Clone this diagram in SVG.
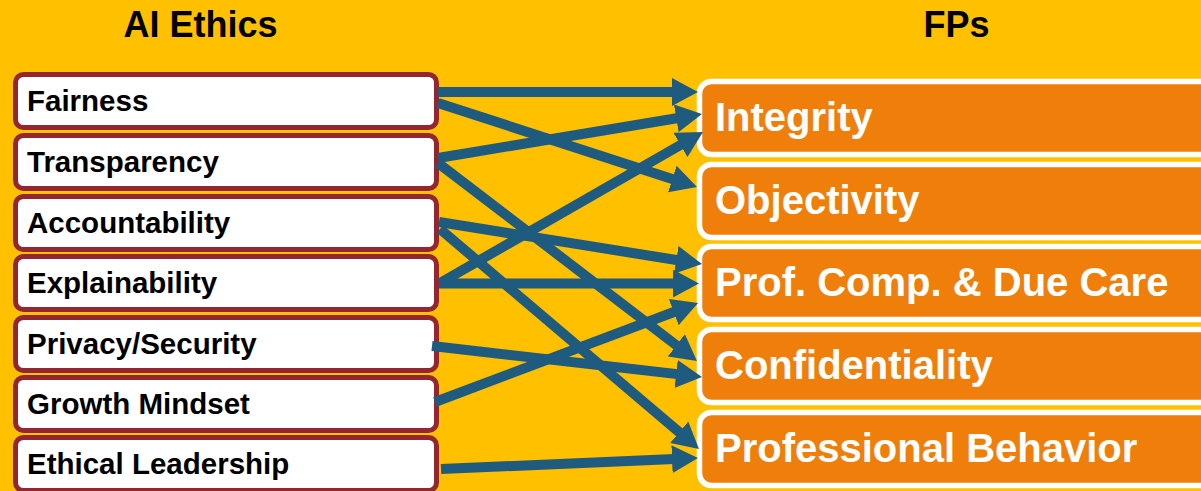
<svg xmlns="http://www.w3.org/2000/svg" width="1201" height="491" viewBox="0 0 1201 491">
<style>
.bg{fill:#FFC000}
.lbox{fill:#FFFFFF;stroke:#93262F;stroke-width:5}
.rbox{fill:#EF7F0A;stroke:#FFFFFF;stroke-width:5.5}
.ltxt{font-family:"Liberation Sans",Arial,sans-serif;font-weight:bold;font-size:29.5px;fill:#000000}
.rtxt{font-family:"Liberation Sans",Arial,sans-serif;font-weight:bold;font-size:40px;fill:#FFFFFF}
.title{font-family:"Liberation Sans",Arial,sans-serif;font-weight:bold;font-size:36px;fill:#000000;text-anchor:middle}
.conn line{stroke:#1F5B7E;stroke-width:10;marker-end:url(#ah)}
</style>
<defs>
<marker id="ah" markerUnits="userSpaceOnUse" viewBox="0 0 26 28" markerWidth="26" markerHeight="28" refX="8" refY="14" orient="auto">
<path d="M0,0 L26,14 L0,28 z" fill="#1F5B7E"/>
</marker>
</defs>
<rect class="bg" x="0" y="0" width="1201" height="491"/>
<text class="title" x="200.5" y="37">AI Ethics</text>
<text class="title" x="956.5" y="37">FPs</text>

<g id="n-fairness"><rect class="lbox" x="15.5" y="74.5" width="421" height="53" rx="8"/><text class="ltxt" x="27" y="111">Fairness</text></g>
<g id="n-transparency"><rect class="lbox" x="15.5" y="135.5" width="421" height="53" rx="8"/><text class="ltxt" x="27" y="172">Transparency</text></g>
<g id="n-accountability"><rect class="lbox" x="15.5" y="196.5" width="421" height="53" rx="8"/><text class="ltxt" x="27" y="233">Accountability</text></g>
<g id="n-explainability"><rect class="lbox" x="15.5" y="256.5" width="421" height="53" rx="8"/><text class="ltxt" x="27" y="293">Explainability</text></g>
<g id="n-privacy"><rect class="lbox" x="15.5" y="317.5" width="421" height="53" rx="8"/><text class="ltxt" x="27" y="354">Privacy/Security</text></g>
<g id="n-growth"><rect class="lbox" x="15.5" y="377.5" width="421" height="53" rx="8"/><text class="ltxt" x="27" y="414">Growth Mindset</text></g>
<g id="n-ethical"><rect class="lbox" x="15.5" y="437.5" width="421" height="53" rx="8"/><text class="ltxt" x="27" y="474">Ethical Leadership</text></g>

<g id="n-integrity"><rect class="rbox" x="699.5" y="81.5" width="520" height="73" rx="12"/><text class="rtxt" x="715" y="131">Integrity</text></g>
<g id="n-objectivity"><rect class="rbox" x="699.5" y="164.5" width="520" height="73" rx="12"/><text class="rtxt" x="715" y="214">Objectivity</text></g>
<g id="n-profcomp"><rect class="rbox" x="699.5" y="246.5" width="520" height="73" rx="12"/><text class="rtxt" x="715" y="296">Prof. Comp. &amp; Due Care</text></g>
<g id="n-confidentiality"><rect class="rbox" x="699.5" y="329.5" width="520" height="73" rx="12"/><text class="rtxt" x="715" y="379">Confidentiality</text></g>
<g id="n-behavior"><rect class="rbox" x="699.5" y="412.5" width="520" height="73" rx="12"/><text class="rtxt" x="715" y="462">Professional Behavior</text></g>

<g id="connectors" class="conn">
<line x1="438" y1="92" x2="680" y2="92"/>
<line x1="438" y1="103" x2="679.9" y2="181.5"/>
<line x1="438" y1="158" x2="684.2" y2="117"/>
<line x1="438" y1="163" x2="682.7" y2="350.1"/>
<line x1="439" y1="222" x2="684.2" y2="261.2"/>
<line x1="440" y1="229" x2="685.3" y2="437.4"/>
<line x1="440" y1="283" x2="687.4" y2="141"/>
<line x1="439" y1="283.5" x2="681" y2="283.5"/>
<line x1="432" y1="346" x2="684.1" y2="374.9"/>
<line x1="435" y1="402" x2="681.2" y2="309.3"/>
<line x1="441" y1="469" x2="680" y2="458.8"/>
</g>
</svg>
